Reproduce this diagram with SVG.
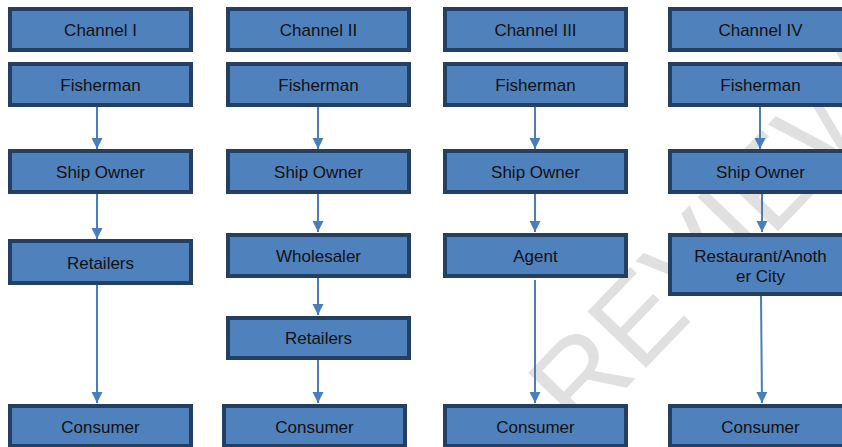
<svg xmlns="http://www.w3.org/2000/svg" width="842" height="447" viewBox="0 0 842 447">
<defs>
<style>
.box{fill:#4F81BD;stroke:#243F60;stroke-width:4}
.t{font-family:"Liberation Sans",Arial,sans-serif;font-size:17px;fill:#111;text-anchor:middle}
.c{stroke:#4A7EBB;stroke-width:2;fill:none;marker-end:url(#ah)}
.wm{font-family:"Liberation Sans",Arial,sans-serif;font-size:118px;fill:#E0E0E0}
</style>
<marker id="ah" viewBox="0 0 10 10" refX="10" refY="5" markerWidth="5.5" markerHeight="6" markerUnits="strokeWidth" orient="auto">
<path d="M0,0 L10,5 L0,10 z" fill="#4A7EBB"/>
</marker>
</defs>
<rect width="842" height="447" fill="#fff"/>
<text class="wm" transform="translate(580,436) rotate(-46)">REVIEW</text>
<g id="connectors">
<line class="c" x1="97" y1="107" x2="97" y2="149"/>
<line class="c" x1="97" y1="194" x2="97" y2="239"/>
<line class="c" x1="97" y1="285" x2="97" y2="403"/>
<line class="c" x1="318" y1="107" x2="318" y2="149"/>
<line class="c" x1="318" y1="194" x2="318" y2="232"/>
<line class="c" x1="318" y1="278" x2="318" y2="315"/>
<line class="c" x1="318" y1="360" x2="318" y2="403"/>
<line class="c" x1="535" y1="107" x2="535" y2="149"/>
<line class="c" x1="535" y1="194" x2="535" y2="232"/>
<line class="c" x1="535" y1="280" x2="535" y2="403"/>
<line class="c" x1="760" y1="107" x2="760" y2="149"/>
<line class="c" x1="762" y1="194" x2="762" y2="232"/>
<line class="c" x1="761" y1="296" x2="762" y2="403"/>
</g>
<g id="c1-channel"><rect class="box" x="10" y="9" width="181" height="41"/><text class="t" x="100.5" y="36">Channel I</text></g>
<g id="c1-fisherman"><rect class="box" x="10" y="64" width="181" height="41"/><text class="t" x="100.5" y="91">Fisherman</text></g>
<g id="c1-shipowner"><rect class="box" x="10" y="151" width="181" height="41"/><text class="t" x="100.5" y="178">Ship Owner</text></g>
<g id="c1-retailers"><rect class="box" x="10" y="241" width="181" height="42"/><text class="t" x="100.5" y="269">Retailers</text></g>
<g id="c1-consumer"><rect class="box" x="10" y="406" width="181" height="40"/><text class="t" x="100.5" y="433">Consumer</text></g>

<g id="c2-channel"><rect class="box" x="228" y="9" width="181" height="41"/><text class="t" x="318.5" y="36">Channel II</text></g>
<g id="c2-fisherman"><rect class="box" x="228" y="64" width="181" height="41"/><text class="t" x="318.5" y="91">Fisherman</text></g>
<g id="c2-shipowner"><rect class="box" x="228" y="151" width="181" height="41"/><text class="t" x="318.5" y="178">Ship Owner</text></g>
<g id="c2-wholesaler"><rect class="box" x="228" y="235" width="181" height="41"/><text class="t" x="318.5" y="262">Wholesaler</text></g>
<g id="c2-retailers"><rect class="box" x="228" y="318" width="181" height="40"/><text class="t" x="318.5" y="344">Retailers</text></g>
<g id="c2-consumer"><rect class="box" x="224" y="406" width="181" height="40"/><text class="t" x="314.5" y="433">Consumer</text></g>

<g id="c3-channel"><rect class="box" x="445" y="9" width="181" height="41"/><text class="t" x="535.5" y="36">Channel III</text></g>
<g id="c3-fisherman"><rect class="box" x="445" y="64" width="181" height="41"/><text class="t" x="535.5" y="91">Fisherman</text></g>
<g id="c3-shipowner"><rect class="box" x="445" y="151" width="181" height="41"/><text class="t" x="535.5" y="178">Ship Owner</text></g>
<g id="c3-agent"><rect class="box" x="445" y="235" width="181" height="41"/><text class="t" x="535.5" y="262">Agent</text></g>
<g id="c3-consumer"><rect class="box" x="445" y="406" width="181" height="40"/><text class="t" x="535.5" y="433">Consumer</text></g>

<g id="c4-channel"><rect class="box" x="670" y="9" width="181" height="41"/><text class="t" x="760.5" y="36">Channel IV</text></g>
<g id="c4-fisherman"><rect class="box" x="670" y="64" width="181" height="41"/><text class="t" x="760.5" y="91">Fisherman</text></g>
<g id="c4-shipowner"><rect class="box" x="670" y="151" width="181" height="41"/><text class="t" x="760.5" y="178">Ship Owner</text></g>
<g id="c4-restaurant"><rect class="box" x="670" y="235" width="181" height="59"/><text class="t" x="760.5" y="262">Restaurant/Anoth</text><text class="t" x="760.5" y="282">er City</text></g>
<g id="c4-consumer"><rect class="box" x="670" y="406" width="181" height="40"/><text class="t" x="760.5" y="433">Consumer</text></g>
</svg>
